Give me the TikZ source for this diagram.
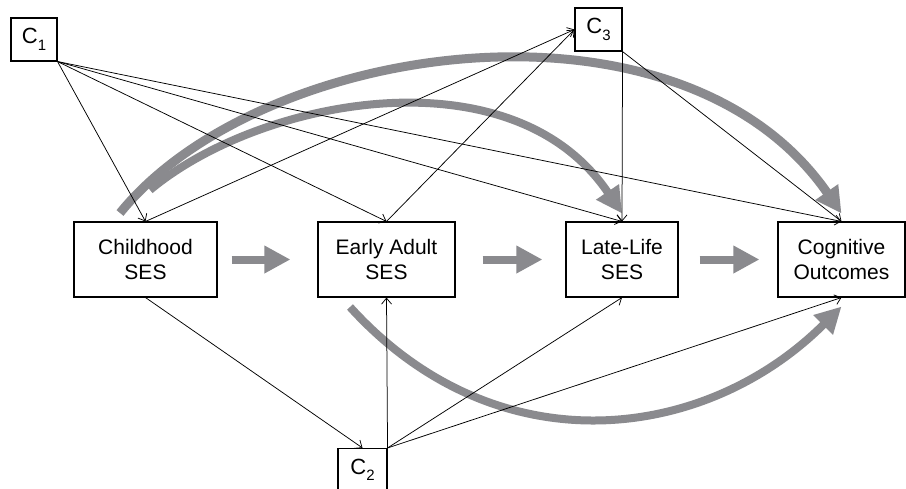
\documentclass[tikz,border=0pt]{standalone}
\usepackage{fontspec}
\setmainfont{Liberation Sans}
\usetikzlibrary{arrows.meta,calc}
\definecolor{bandgray}{RGB}{138,138,142}
\newcommand\subidx[1]{\raisebox{-6.5pt}{\fontsize{15}{15}\selectfont #1}}
\begin{document}
\begin{tikzpicture}[x=1pt,y=-1pt,
  box/.style={draw,line width=1.1pt,minimum height=75pt,inner sep=0pt,align=center,font=\fontsize{21}{24.5}\selectfont},
  cbox/.style={draw,line width=1.1pt,minimum width=46pt,minimum height=43pt,inner sep=0pt,font=\fontsize{22}{24}\selectfont},
  conn/.style={line width=0.75pt,-{Straight Barb[length=6pt,width=10pt]}},
  band/.style={bandgray,line width=9pt,-{Triangle[length=26pt,width=26pt]}},
  fat/.style={bandgray,line width=8pt,-{Triangle[length=26pt,width=26pt]}}]
\useasboundingbox[fill=white] (0,0) rectangle (906,488);

\node[box,minimum width=143pt] (child) at (145.5,259.5) {Childhood\\SES};
\node[box,minimum width=137pt] (early) at (386.5,259.5) {Early Adult\\SES};
\node[box,minimum width=112pt] (late) at (622,259.5) {Late-Life\\SES};
\node[box,minimum width=127pt] (cog) at (841.5,259.5) {Cognitive\\Outcomes};
\node[cbox] (c1) at (34,39.5) {C\subidx{1}};
\node[cbox,minimum width=47pt] (c3) at (598.5,29.5) {C\subidx{3}};
\node[cbox,minimum width=49pt] (c2) at (362.5,470) {C\subidx{2}};

% straight grey arrows
\draw[fat,shorten <=14pt,shorten >=27pt] (child.east) -- (early.west);
\draw[fat,shorten <=27pt,shorten >=23pt] (early.east) -- (late.west);
\draw[fat,shorten <=21pt,shorten >=18pt] (late.east) -- (cog.west);

% curved grey arrows
\coordinate (o1) at (120,213);
\coordinate (i1) at (150,190);
\coordinate (b1) at (350,307);
\coordinate (o2) at ($(cog.north)+(0,-8)$);
\coordinate (i2) at ($(late.north)+(0,-8)$);
\coordinate (b2) at ($(cog.south)+(0,9)$);
\draw[band] (o1) .. controls (260,40) and (680,-20) .. (o2);
\draw[fat] (i1) .. controls (260,98) and (512,50) .. (i2);
\draw[fat] (b1) .. controls (497,469) and (706,442) .. (b2);

% thin connectors
\draw[conn] (c1.south east) -- (child.north);
\draw[conn] (c1.south east) -- (early.north);
\draw[conn] (c1.south east) -- (late.north);
\draw[conn] (c1.south east) -- (cog.north);
\draw[conn] (child.north) -- (c3.west);
\draw[conn] (early.north) -- (c3.west);
\draw[conn] (c3.south east) -- (late.north);
\draw[conn] (c3.south east) -- (cog.north);
\draw[conn] (child.south) -- (c2.north);
\draw[conn] (c2.north east) -- (early.south);
\draw[conn] (c2.north east) -- (late.south);
\draw[conn] (c2.north east) -- (cog.south);
\end{tikzpicture}
\end{document}
